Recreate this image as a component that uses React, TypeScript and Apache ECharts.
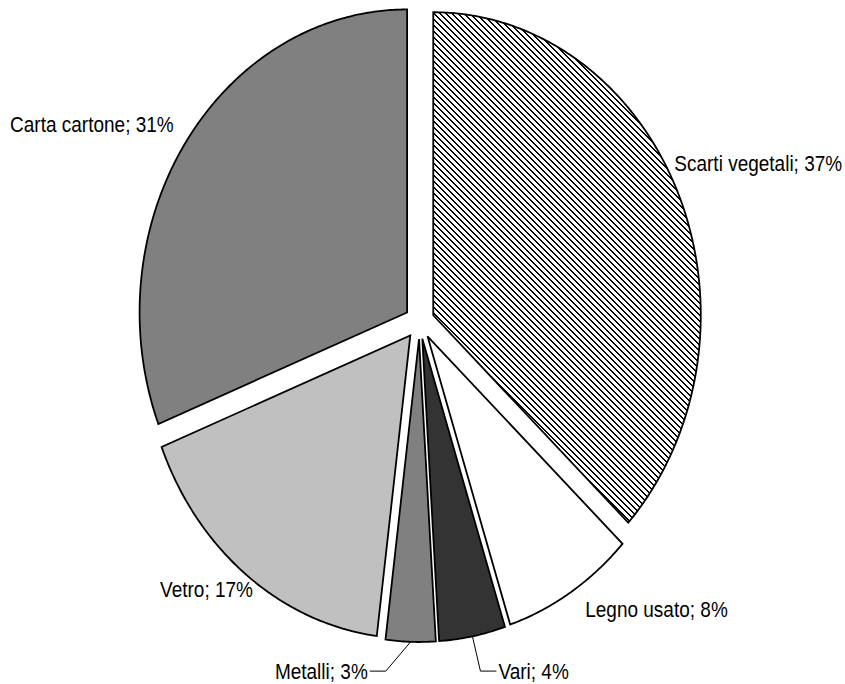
import React, { useEffect, useRef } from 'react';
import * as echarts from 'echarts';

// ---- data ----
const categories = ['Scarti vegetali', 'Legno usato', 'Vari', 'Metalli', 'Vetro', 'Carta cartone'];
const percentages = [37, 8, 4, 3, 17, 31];

// ---- styling / layout (kept apart from data) ----
const sliceFills = ['hatch', '#ffffff', '#333333', '#808080', '#c0c0c0', '#808080'];
const labelNudges: [number, number][] = [[-29, -19], [0, -8], [21, 5], [-42, -1], [23, -9], [10, -1]];
const useLeader = [false, false, true, true, false, false];

const CX = 419.5;
const CY = 322;
const RX = 267.5;
const RY = 303;
const K = RY / RX;
const EXPLODE = 15;
const LABEL_F = 1.1;
const FONT = '19px "Liberation Sans", Arial, sans-serif';

function makeHatch(): HTMLCanvasElement {
  const c = document.createElement('canvas');
  c.width = 6;
  c.height = 6;
  const ctx = c.getContext('2d')!;
  ctx.fillStyle = '#ffffff';
  ctx.fillRect(0, 0, 6, 6);
  ctx.fillStyle = '#000000';
  for (let i = 0; i < 6; i++) {
    ctx.fillRect(i, i, 1, 1);
    ctx.fillRect((i + 1) % 6, i, 1, 1);
  }
  return c;
}

export default function App() {
  const ref = useRef<HTMLDivElement>(null);
  useEffect(() => {
    if (!ref.current) return;
    const chart = echarts.init(ref.current, null, { renderer: 'svg' });
    const hatch = makeHatch();
    const total = percentages.reduce((a, b) => a + b, 0);
    const cum: number[] = [];
    let acc = 0;
    percentages.forEach((v) => {
      cum.push(acc);
      acc += v;
    });

    const renderItem = (params: any, api: any) => {
      const i = params.dataIndex;
      const v = api.value(0);
      const start = (cum[i] / total) * Math.PI * 2;
      const end = ((cum[i] + v) / total) * Math.PI * 2;
      const mid = (start + end) / 2;
      const sm = Math.sin(mid);
      const cm = Math.cos(mid);
      const cx = CX + EXPLODE * sm;
      const cy = CY - EXPLODE * K * cm;
      const pts: number[][] = [[cx, cy]];
      const n = Math.max(2, Math.ceil((end - start) / (Math.PI / 360)));
      for (let j = 0; j <= n; j++) {
        const a = start + ((end - start) * j) / n;
        pts.push([cx + RX * Math.sin(a), cy - RY * Math.cos(a)]);
      }
      const fill =
        sliceFills[i] === 'hatch'
          ? { image: hatch, repeat: 'repeat', imageWidth: 6, imageHeight: 6 }
          : sliceFills[i];
      const children: any[] = [
        {
          type: 'polygon',
          shape: { points: pts },
          style: { fill, stroke: '#000', lineWidth: 1.8, lineJoin: 'miter' },
        },
      ];
      const align = sm >= 0 ? 'left' : 'right';
      const ax = cx + RX * LABEL_F * sm + labelNudges[i][0];
      const ay = cy - RY * LABEL_F * cm + labelNudges[i][1];
      if (useLeader[i]) {
        const ex = cx + RX * sm;
        const ey = cy - RY * cm;
        const dir = align === 'left' ? -1 : 1;
        const x0 = ax + dir * 2;
        const x1 = x0 + dir * 16;
        children.push({
          type: 'polyline',
          shape: { points: [[x0, ay], [x1, ay], [ex, ey]] },
          style: { stroke: '#000', lineWidth: 1, fill: null },
        });
      }
      children.push({
        type: 'text',
        x: ax,
        y: ay,
        scaleY: K,
        style: {
          text: `${categories[i]}; ${percentages[i]}%`,
          x: 0,
          y: 0,
          fill: '#000',
          font: FONT,
          align,
          verticalAlign: 'middle',
        },
      });
      return { type: 'group', children };
    };

    chart.setOption({
      animation: false,
      backgroundColor: '#ffffff',
      series: [
        {
          type: 'custom',
          coordinateSystem: 'none',
          renderItem,
          data: percentages,
        },
      ],
    });
    return () => chart.dispose();
  }, []);
  return (
    <div
      ref={ref}
      style={{ position: 'absolute', left: 0, top: 0, width: 845, height: 684 }}
    />
  );
}
